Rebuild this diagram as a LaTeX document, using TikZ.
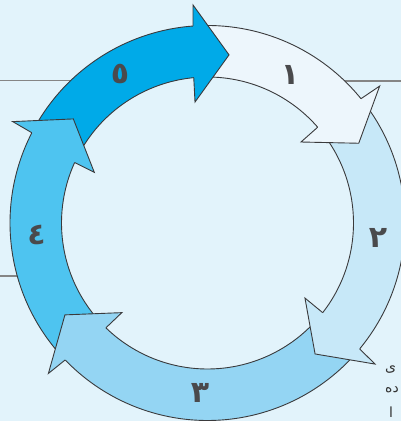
\documentclass[tikz,border=0pt]{standalone}
\usepackage{fontspec}
\newfontfamily\arfont[Script=Arabic]{DejaVu Sans}
\TeXXeTstate=1
\definecolor{bg}{HTML}{E2F3FB}
\definecolor{cA}{HTML}{EDF6FC}
\definecolor{cB}{HTML}{C7E8F8}
\definecolor{cC}{HTML}{94D5F3}
\definecolor{cD}{HTML}{4EC4F0}
\definecolor{cE}{HTML}{00AAE8}
\definecolor{edgecol}{HTML}{3A3A3C}
\definecolor{numcol}{HTML}{4A4A4C}
\definecolor{rulecol}{HTML}{858585}
\tikzset{
  edgeline/.style={draw=edgecol, line width=0.9pt, line join=miter},
  numlabel/.style={font=\arfont\bfseries\fontsize{30}{30}\selectfont, text=numcol, inner sep=0pt},
  sidetext/.style={font=\arfont\fontsize{14}{14}\selectfont, text=black!80, inner sep=0pt},
  rule/.style={draw=rulecol, line width=1.2pt}
}
\newcommand\ringseg[4]{% color, start, end outer, end inner
  \fill[#1] (#2:\Ro) arc[start angle=#2, end angle=#3, radius=\Ro] -- (#4:\Ri)
     arc[start angle=#4, end angle=#2, radius=\Ri] -- cycle;
  \draw[edgeline] (#2:\Ro) arc[start angle=#2, end angle=#3, radius=\Ro];
  \draw[edgeline] (#4:\Ri) arc[start angle=#4, end angle=#2, radius=\Ri];
}
\newcommand\arhead[6]{% color, inner junction angle, inner barb, tip, outer barb, outer junction angle
  \fill[#1] (#2:\Ri) -- (#3) -- (#4) -- (#5) -- (#6:\Ro) -- cycle;
  \draw[edgeline] (#2:\Ri) -- (#3) -- (#4) -- (#5) -- (#6:\Ro);
}
\begin{document}
\begin{tikzpicture}[x=1pt,y=1pt]
\useasboundingbox (0,0) rectangle (401,421);
\fill[bg] (0,0) rectangle (401,421);
\clip (0,0) rectangle (401,421);
% grey rules behind the ring
\coordinate (r1a) at (0,340.3);   \coordinate (r1b) at (95,340.3);
\coordinate (r2a) at (401,340);   \coordinate (r2b) at (325,340);
\coordinate (r3a) at (0,145);     \coordinate (r3b) at (35,145);
\draw[rule] (r1a) -- (r1b);
\draw[rule] (r2a) -- (r2b);
\draw[rule] (r3a) -- (r3b);
\begin{scope}[shift={(207.5,198)}]
\def\Ro{197.5}
\def\Ri{146}
% bodies (each starts under the previous head, ends a little inside its own head)
\ringseg{cA}{92.0}{37.0}{39.0}
\ringseg{cB}{37.0}{-41.6}{-39.9}
\ringseg{cC}{-41.5}{-138.1}{-136.1}
\ringseg{cD}{222.0}{150.8}{153.5}
\ringseg{cE}{151.0}{92.2}{93.4}
% heads
\arhead{cE}{95.4}{95.9:121.6}{82.7:169.5}{93.8:218.5}{94.2}
\arhead{cA}{41.0}{40.9:123.7}{27.8:171}{38.5:220}{39.0}
\arhead{cB}{-37.9}{-37.6:123}{-50.6:169.5}{-40.1:219}{-39.6}
\arhead{cC}{225.9}{226.3:124}{212.8:169.6}{223.4:219}{223.9}
\arhead{cD}{155.5}{155.9:124}{142.2:169.8}{152.5:219.6}{152.8}
\end{scope}
% numbers
\node[numlabel] (n1) at (290,346) {١};
\node[numlabel] (n2) at (378,183) {٢};
\node[numlabel] (n3) at (200,28) {٣};
\node[numlabel] (n4) at (36.5,186) {٤};
\node[numlabel] (n5) at (120,347) {٥};
% side text fragments
\node[sidetext, anchor=west] (t1) at (385,51) {\beginR ی\endR};
\node[sidetext, anchor=west] (t2) at (385,31) {\beginR ده\endR};
\node[sidetext, anchor=west] (t3) at (389,9) {\beginR ا\endR};
\end{tikzpicture}
\end{document}
